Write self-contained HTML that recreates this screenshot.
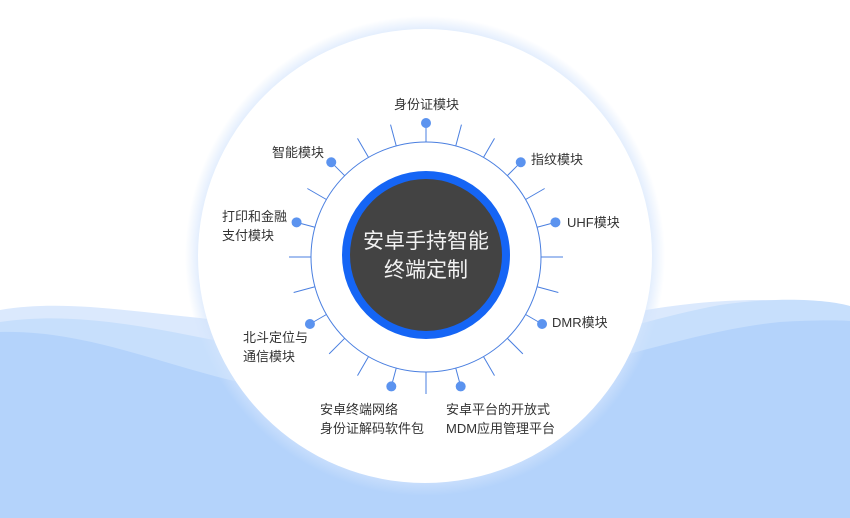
<!DOCTYPE html>
<html><head><meta charset="utf-8"><style>
body{margin:0;width:850px;height:518px;overflow:hidden;background:#fff;font-family:"Liberation Sans","Noto Sans CJK SC",sans-serif;}
.l{position:absolute;font-size:13px;color:#333;line-height:19px;white-space:nowrap}
</style></head><body>
<svg width="850" height="518" style="position:absolute;left:0;top:0">
<defs>
<radialGradient id="g" cx="0.5" cy="0.5" r="0.5">
<stop offset="0.93" stop-color="#d3e4fc" stop-opacity="0.8"/>
<stop offset="1" stop-color="#d3e4fc" stop-opacity="0"/>
</radialGradient>
</defs>
<path d="M0 310 C60 300 120 310 200 318 C300 330 380 360 450 350 C560 330 650 300 760 300 C800 300 830 305 850 308 L850 518 L0 518Z" fill="#dbe9fd"/>
<path d="M0 322 C80 310 160 330 240 345 C330 360 400 370 480 360 C580 345 640 320 720 305 C780 296 830 300 850 306 L850 518 L0 518Z" fill="#c7dffc"/>
<path d="M0 332 C80 330 150 360 230 380 C320 400 420 400 520 380 C620 360 700 330 780 322 C810 320 840 320 850 321 L850 518 L0 518Z" fill="#b4d3fb"/>
<circle cx="425" cy="256" r="240" fill="url(#g)"/>
<circle cx="425" cy="256" r="227" fill="#fff"/>
<circle cx="426" cy="257" r="115" fill="none" stroke="#4a7fe0" stroke-width="1"/>
<g stroke="#4a7fe0" stroke-width="1">
<g id="t"></g>
</g>
<circle cx="426" cy="255" r="80" fill="#434343" stroke="#1565f5" stroke-width="8"/>
<text x="426" y="248" fill="#f2f2f2" font-size="21" text-anchor="middle" font-family="Liberation Sans,Noto Sans CJK SC,sans-serif">安卓手持智能</text>
<text x="426" y="277" fill="#f2f2f2" font-size="21" text-anchor="middle" font-family="Liberation Sans,Noto Sans CJK SC,sans-serif">终端定制</text>
<g id="d"></g>
</svg>
<script>
var ns="http://www.w3.org/2000/svg",t=document.getElementById('t'),d=document.getElementById('d');
var dots=[0,45,75,120,165,195,240,285,315];
for(var a=0;a<360;a+=15){var r=a*Math.PI/180,s=Math.sin(r),c=-Math.cos(r);
var isd=dots.indexOf(a)>=0;var l=document.createElementNS(ns,'line');
var r2=isd?130:137;
l.setAttribute('x1',426+115*s);l.setAttribute('y1',257+115*c);l.setAttribute('x2',426+r2*s);l.setAttribute('y2',257+r2*c);t.appendChild(l);
if(isd){var ci=document.createElementNS(ns,'circle');ci.setAttribute('cx',426+134*s);ci.setAttribute('cy',257+134*c);ci.setAttribute('r',5);ci.setAttribute('fill','#5b93ef');d.appendChild(ci);}}
</script>
<div class="l" style="left:394px;top:95px">身份证模块</div>
<div class="l" style="left:531px;top:150px">指纹模块</div>
<div class="l" style="left:567px;top:213px">UHF模块</div>
<div class="l" style="left:552px;top:313px">DMR模块</div>
<div class="l" style="left:446px;top:400px">安卓平台的开放式<br>MDM应用管理平台</div>
<div class="l" style="left:320px;top:400px">安卓终端网络<br>身份证解码软件包</div>
<div class="l" style="left:243px;top:328px">北斗定位与<br>通信模块</div>
<div class="l" style="left:222px;top:207px">打印和金融<br>支付模块</div>
<div class="l" style="left:272px;top:143px">智能模块</div>
</body></html>
